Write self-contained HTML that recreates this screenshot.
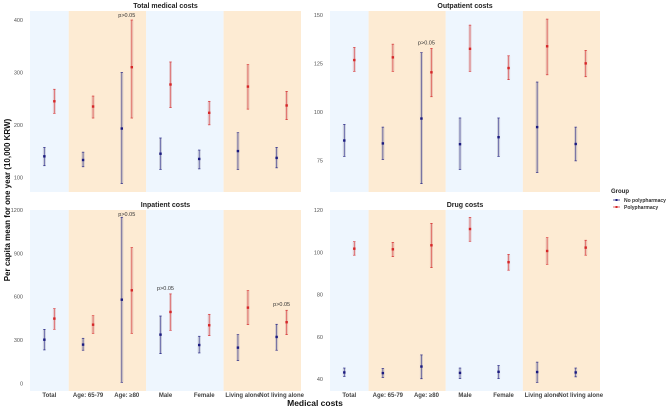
<!DOCTYPE html>
<html><head><meta charset="utf-8"><style>
body{margin:0;background:#fff;}
svg{display:block;font-family:"Liberation Sans",sans-serif;}
</style></head><body>
<svg id="c" width="669" height="409"></svg>
<script>
const categories=["Total","Age: 65-79","Age: ≥80","Male","Female","Living alone","Not living alone"];
const totNo=[140,133,193,145,135,150,137], totNoLo=[122,120,88,115,116,115,118], totNoHi=[157,148,300,175,152,185,157];
const totPo=[245,235,310,277,223,273,237], totPoLo=[222,213,213,233,200,230,210], totPoHi=[268,255,400,320,245,315,264];
const outNo=[85.4,83.9,96.7,83.5,87.1,92.3,83.6], outNoLo=[77.2,75.6,63.2,70.5,77.2,68.9,74.9], outNoHi=[93.7,92.3,130.6,97,97,115.5,92.3];
const outPo=[126.8,128.2,120.5,132.6,122.7,133.9,125.1], outPoLo=[121,121,107.9,121,116.7,119.2,118.2], outPoHi=[133.3,135,132.8,144.8,129,147.9,131.8];
const inNo=[302,268,579,337,265,247,321], inNoLo=[231,229,7,205,210,157,229], inNoHi=[374,312,1150,466,326,337,409];
const inPo=[448,406,644,494,402,524,423], inPoLo=[374,346,346,367,330,406,337], inPoHi=[517,468,940,619,478,642,506];
const drNo=[43.1,42.8,45.9,42.9,43.4,43.3,43.1], drNoLo=[41.2,40.7,40.1,40.2,40.2,38.4,41], drNoHi=[45.2,45,51.4,45.2,46.4,48,45.2];
const drPo=[101.7,101.4,103.3,111,95.3,100.6,102.2], drPoLo=[98.6,97.9,92.7,105.2,91.5,94.3,98.6], drPoHi=[105,104.7,113.7,116.5,99,106.9,105.7];
const totTicks=[100,200,300,400], outTicks=[75,100,125,150], inTicks=[0,300,600,900,1200], drTicks=[40,60,80,100,120];
const pTot=[2], pOut=[2], pIn=[2,3,6];

const svg=document.getElementById('c');
const NS="http://www.w3.org/2000/svg";
function mk(t,a,p){const e=document.createElementNS(NS,t);for(const k in a)e.setAttribute(k,a[k]);(p||svg).appendChild(e);return e;}

const panels=[
 {name:"total-medical-costs",title:"Total medical costs",x0:30,x1:301,y0:11,y1:192,v0:100,p0:177.3,v1:400,p1:20,ticks:totTicks,no:[totNo,totNoLo,totNoHi],po:[totPo,totPoLo,totPoHi],p:pTot,xl:false},
 {name:"outpatient-costs",title:"Outpatient costs",x0:330,x1:600,y0:11,y1:192,v0:75,p0:160.7,v1:150,p1:15,ticks:outTicks,no:[outNo,outNoLo,outNoHi],po:[outPo,outPoLo,outPoHi],p:pOut,xl:false},
 {name:"inpatient-costs",title:"Inpatient costs",x0:30,x1:301,y0:210,y1:391,v0:0,p0:383.3,v1:1200,p1:210,ticks:inTicks,no:[inNo,inNoLo,inNoHi],po:[inPo,inPoLo,inPoHi],p:pIn,xl:true},
 {name:"drug-costs",title:"Drug costs",x0:330,x1:600,y0:210,y1:391,v0:40,p0:379,v1:120,p1:210,ticks:drTicks,no:[drNo,drNoLo,drNoHi],po:[drPo,drPoLo,drPoHi],p:[],xl:true}
];
panels.forEach(P=>{
 const g=mk('g',{});
 
 
 const w=(P.x1-P.x0)/categories.length;
 const xs=i=>P.x0+w*(i+0.5);
 const ys=v=>P.p0+(v-P.v0)*(P.p1-P.p0)/(P.v1-P.v0);
 const bands=[[0,1,'#eef6fe'],[1,3,'#fdebd3'],[3,5,'#eef6fe'],[5,7,'#fdebd3']];
 bands.forEach((b,i)=>{const r=mk('rect',{x:P.x0+w*b[0],y:P.y0,width:w*(b[1]-b[0]),height:P.y1-P.y0,fill:b[2]},g);
  });
 const t=mk('text',{x:(P.x0+P.x1)/2,y:P.y0-3,'text-anchor':'middle','font-size':'7','font-weight':'bold',fill:'#222'},g);t.textContent=P.title;
 
 P.ticks.forEach(v=>{const tt=mk('text',{x:P.x0-7,y:ys(v)+2,'text-anchor':'end','font-size':'5.5',fill:'#555'},g);tt.textContent=v;
  });
 if(P.xl) categories.forEach((c,i)=>{const tt=mk('text',{x:xs(i),y:397,'text-anchor':'middle','font-size':'6','font-weight':'bold',fill:'#444'},g);tt.textContent=c;
  });
 [[P.no,-5,'#1a1a80','rgba(150,150,175,0.4)','no-polypharmacy'],[P.po,5,'#d62728','rgba(210,130,130,0.35)','polypharmacy']].forEach(S=>{
  categories.forEach((c,i)=>{
   const x=xs(i)+S[1],yl=ys(S[0][1][i]),yh=ys(S[0][2][i]),ym=ys(S[0][0][i]);
   const bg=mk('rect',{x:x-1.5,y:yh,width:3,height:yl-yh,fill:S[3]},g);
   
   const l=mk('line',{x1:x,x2:x,y1:yh,y2:yl,stroke:S[2],'stroke-width':0.6,'stroke-opacity':0.8},g);
   
   [yh,yl].forEach(yy=>{const cp=mk('line',{x1:x-1.2,x2:x+1.2,y1:yy,y2:yy,stroke:S[2],'stroke-width':0.6},g);
    });
   const pt=mk('rect',{x:x-1.2,y:ym-1.2,width:2.4,height:2.4,fill:S[2]},g);
   
  });
 });
 P.p.forEach(i=>{const top=Math.min(ys(P.no[2][i]),ys(P.po[2][i]));
  const tt=mk('text',{x:xs(i),y:Math.max(top-4,P.y0+6),'text-anchor':'middle','font-size':'5.5',fill:'#333'},g);tt.textContent='p>0.05';
  });
});
let yt=mk('text',{x:0,y:0,transform:'translate(10,200) rotate(-90)','text-anchor':'middle','font-size':'8','font-weight':'bold',fill:'#111'});
yt.textContent='Per capita mean for one year (10,000 KRW)';

let xt=mk('text',{x:315,y:406,'text-anchor':'middle','font-size':'8.5','font-weight':'bold',fill:'#111'});
xt.textContent='Medical costs';

let lg=mk('g',{});
let lt=mk('text',{x:611,y:193,'font-size':'6','font-weight':'bold',fill:'#222'},lg);lt.textContent='Group';

[['No polypharmacy','#1a1a80',200],['Polypharmacy','#d62728',207]].forEach(e=>{
 const eg=mk('g',{},lg);
 mk('line',{x1:613,x2:620,y1:e[2],y2:e[2],stroke:e[1],'stroke-width':0.7},eg);
 mk('rect',{x:615.5,y:e[2]-1,width:2,height:2,fill:e[1]},eg);
 const tx=mk('text',{x:624,y:e[2]+2,'font-size':'5','font-weight':'bold',fill:'#333'},eg);tx.textContent=e[0];
});
</script>
</body></html>
